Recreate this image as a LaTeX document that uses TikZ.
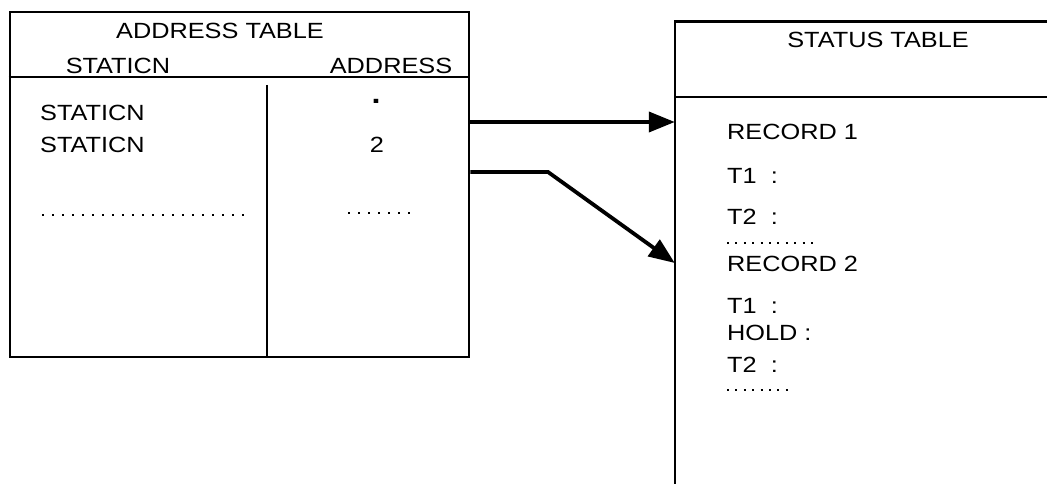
\documentclass[tikz,border=0pt]{standalone}
\usepackage{fontspec}
\setmainfont{Liberation Sans}[FakeStretch=1.15]
\usetikzlibrary{arrows.meta}
\begin{document}
\begin{tikzpicture}[x=1pt,y=-1pt,
  every node/.style={inner sep=0pt, font=\fontsize{22}{26}\selectfont},
  border/.style={line width=2.6pt},
  thinline/.style={line width=1.8pt},
  dotline/.style={line width=2.2pt, dash pattern=on 2.2pt off 7.8pt},
  dotline2/.style={line width=2pt, dash pattern=on 2pt off 6.4pt},
  link/.style={line width=3.8pt, -{Triangle[length=26pt,width=20pt]}},
  lbl/.style={anchor=west}]
\useasboundingbox (0,0) rectangle (1047,484);
% address table
\node[border, draw, minimum width=459pt, minimum height=345pt] (addr) at (239.5,184.5) {};
\coordinate (hdr) at (0,77);
\draw[border] (addr.west |- hdr) -- (addr.east |- hdr);
\coordinate (colT) at (267,85);
\draw[thinline] (colT) -- (colT |- addr.south);
\node (atitle) at (220,31) {ADDRESS TABLE};
\node (hstation) at (118,66) {STATICN};
\node (haddress) at (391,66) {ADDRESS};
\node[lbl] (st1) at (40,113) {STATICN};
\node[lbl] (st2) at (40,145) {STATICN};
\node[font=\fontsize{28}{30}\selectfont\bfseries] (ad1) at (376,101) {.};
\node (ad2) at (377,145) {2};
\coordinate (d1a) at (42,215); \coordinate (d1b) at (244,215);
\draw[dotline] (d1a) -- (d1b);
\coordinate (d2a) at (348,213); \coordinate (d2b) at (412,213);
\draw[dotline] (d2a) -- (d2b);
% status table
\node[minimum width=372pt, minimum height=462pt] (stat) at (861,253) {};
\draw[border] (stat.north east) -- (stat.north west) -- (stat.south west);
\coordinate (shdr) at (0,97);
\draw[border] (stat.west |- shdr) -- (stat.east |- shdr);
\node (stitle) at (878,40) {STATUS TABLE};
\node[lbl] (rec1) at (727,132) {RECORD 1};
\node[lbl] (r1t1) at (727,176) {T1 \ :};
\node[lbl] (r1t2) at (727,217) {T2 \ :};
\coordinate (d3a) at (727,243); \coordinate (d3b) at (818,243);
\draw[dotline2] (d3a) -- (d3b);
\node[lbl] (rec2) at (727,264) {RECORD 2};
\node[lbl] (r2t1) at (727,306) {T1 \ :};
\node[lbl] (r2hold) at (727,333) {HOLD :};
\node[lbl] (r2t2) at (727,365) {T2 \ :};
\coordinate (d4a) at (727,390); \coordinate (d4b) at (794,390);
\draw[dotline2] (d4a) -- (d4b);
% connectors
\coordinate (y1) at (0,122);
\coordinate (y2) at (0,172);
\coordinate (bend) at (548,172);
\coordinate (y3) at (0,263);
\draw[link] (addr.east |- y1) -- (stat.west |- y1);
\draw[link] (addr.east |- y2) -- (bend) -- (stat.west |- y3);
\end{tikzpicture}
\end{document}
